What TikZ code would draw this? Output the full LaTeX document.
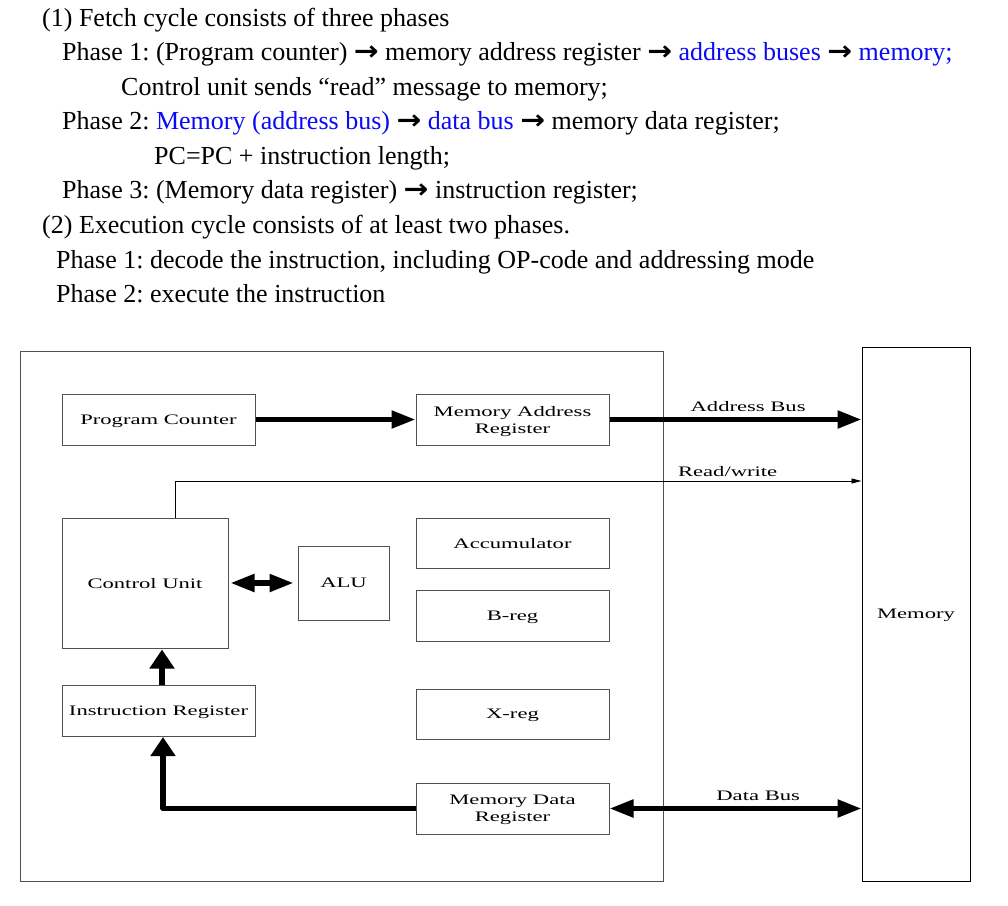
\documentclass[tikz,border=0pt]{standalone}
\usepackage{fontspec}
\usepackage{graphicx}
\setmainfont{Liberation Serif}
\newfontfamily\dfont[FakeStretch=1.56]{Liberation Serif}
\newfontfamily\arrfont{DejaVu Sans}
\usetikzlibrary{arrows.meta}
\newcommand{\ra}{{\arrfont\bfseries\scalebox{1.14}[1.05]{→}}}
\definecolor{bx}{RGB}{80,80,80}
\definecolor{tb}{RGB}{10,10,245}
\frenchspacing
\begin{document}
\begin{tikzpicture}[x=1pt,y=-1pt,
  txt/.style={anchor=base west,inner sep=0pt,font=\fontsize{26}{30}\selectfont},
  box/.style={draw=bx,line width=1pt,inner sep=0pt,align=center,text depth=0pt,font=\dfont\fontsize{14.5}{17}\selectfont},
  lbl/.style={inner sep=0pt,font=\dfont\fontsize{14.5}{17}\selectfont},
  fat/.style={line width=5.2pt,-{Triangle[length=24pt,width=17pt]}},
  fatv/.style={line width=5.2pt,-{Triangle[length=19pt,width=24pt]}},
  fatboth/.style={line width=5.2pt,{Triangle[length=24pt,width=17pt]}-{Triangle[length=24pt,width=17pt]}},
  thin/.style={line width=0.9pt,-{Triangle[length=10pt,width=5pt]}}]
\useasboundingbox (0,0) rectangle (1008,905);
% text
\node[txt] (t1) at (42,26) {(1) Fetch cycle consists of three phases};
\node[txt] (t2) at (62,60) {Phase 1: (Program counter) \ra{} memory address register \ra{} \textcolor{tb}{address buses} \ra{} \textcolor{tb}{memory;}};
\node[txt] (t3) at (121,95) {Control unit sends “read” message to memory;};
\node[txt] (t4) at (62,129) {Phase 2: \textcolor{tb}{Memory (address bus)} \ra{} \textcolor{tb}{data bus} \ra{} memory data register;};
\node[txt] (t5) at (154,164) {PC=PC + instruction length;};
\node[txt] (t6) at (62,198) {Phase 3: (Memory data register) \ra{} instruction register;};
\node[txt] (t7) at (42,233) {(2) Execution cycle consists of at least two phases.};
\node[txt] (t8) at (56,268) {Phase 1: decode the instruction, including OP-code and addressing mode};
\node[txt] (t9) at (56,302) {Phase 2: execute the instruction};
% boxes
\node[box,minimum width=643pt,minimum height=530pt] (cpu) at (341.5,616) {};
\node[box,draw=black,minimum width=108pt,minimum height=534pt] (mem) at (916,614) {Memory};
\node[box,minimum width=193pt,minimum height=51pt] (pc) at (158.5,419.5) {Program Counter};
\node[box,minimum width=193pt,minimum height=51pt] (mar) at (512.5,419.5) {Memory Address\\Register};
\node[box,minimum width=166pt,minimum height=130pt] (cu) at (145,583) {Control Unit};
\node[box,minimum width=91pt,minimum height=74pt] (alu) at (343.5,583) {ALU};
\node[box,minimum width=193pt,minimum height=50pt] (acc) at (512.5,543) {Accumulator};
\node[box,minimum width=193pt,minimum height=51pt] (breg) at (512.5,615.5) {B-reg};
\node[box,minimum width=193pt,minimum height=51pt] (ir) at (158.5,710.5) {Instruction Register};
\node[box,minimum width=193pt,minimum height=50pt] (xreg) at (512.5,714) {X-reg};
\node[box,minimum width=193pt,minimum height=51pt] (mdr) at (512.5,808.5) {Memory Data\\Register};
% connectors
\draw[fat] (pc.east) -- (mar.west);
\draw[fat] (mar.east) -- (mar.east -| mem.west) node[lbl,pos=0.55,above=5pt] (ab) {Address Bus};
\coordinate (rw) at (175,481);
\draw[thin] (cu.north -| rw) -- (rw) -- (rw -| mem.west) node[lbl,pos=0.805,above=4pt] (rwl) {Read/write};
\draw[fatboth,shorten <=2pt,shorten >=4pt] (cu.east) -- (alu.west);
\coordinate (irup) at (162,685);
\draw[fatv,shorten >=1pt] (irup) -- (irup |- cu.south);
\coordinate (irin) at (163,737);
\draw[fatv,line join=round] (mdr.west) -| (irin);
\draw[fatboth] (mdr.east) -- (mdr.east -| mem.west) node[lbl,pos=0.59,above=5pt] (db) {Data Bus};
\end{tikzpicture}
\end{document}
